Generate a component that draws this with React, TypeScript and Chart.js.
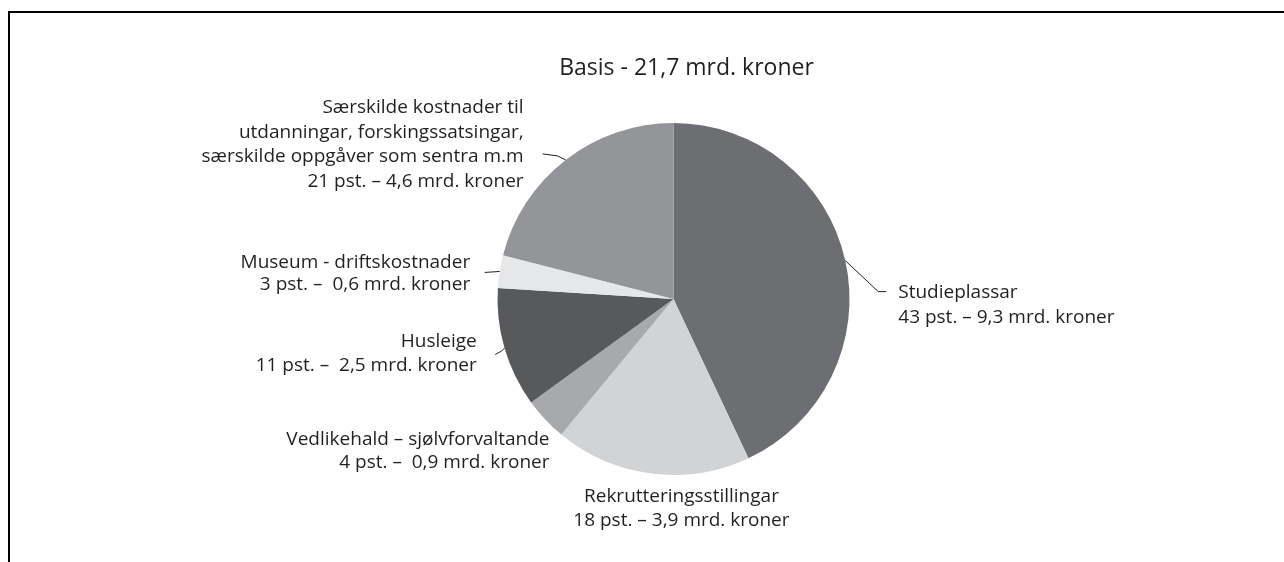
import React, { useEffect, useRef } from "react";
import { Chart, registerables } from "chart.js";

Chart.register(...registerables);

// ---- data ----
const TITLE = "Basis - 21,7 mrd. kroner";
const categories: string[][] = [
  ["Studieplassar"],
  ["Rekrutteringsstillingar"],
  ["Vedlikehald – sjølvforvaltande"],
  ["Husleige"],
  ["Museum - driftskostnader"],
  ["Særskilde kostnader til", "utdanningar, forskingssatsingar,", "særskilde oppgåver som sentra m.m"],
];
const percentages = [43, 18, 4, 11, 3, 21];
const amounts = ["9,3", "3,9", "0,9", "2,5", "0,6", "4,6"];
const amountSeparators = [" – ", " – ", " –  ", " –  ", " –  ", " – "];
const colors = ["#6d6e71", "#d1d3d4", "#a7a9ac", "#58595b", "#e6e7e8", "#939598"];

// ---- label layout (style, offsets from slice edge point at mid-angle) ----
type Layout = { align: CanvasTextAlign; dx: number; dy: number[]; leader?: number[][] };
const LABEL_LAYOUT: Layout[] = [
  { align: "left", dx: 53, dy: [37.7, 62], leader: [[33, 31], [41, 31]] },
  { align: "center", dx: 30, dy: [28.6, 52] },
  { align: "right", dx: 4.3, dy: [26, 48.7] },
  { align: "right", dx: -27.7, dy: [-1.6, 22.4], leader: [[-3, 3], [-9.3, 6.4]] },
  { align: "right", dx: -29.5, dy: [-3.7, 19], leader: [[-15, 1]] },
  { align: "right", dx: -42, dy: [-47, -22.3, 2.5, 27.3], leader: [[-8, -4], [-23, -6]] },
];
const FONT_FAMILY = "'Open Sans', 'Noto Sans', sans-serif";
const TEXT_COLOR = "#231f20";

const labelPlugin = {
  id: "pieLabels",
  afterDraw(chart: any) {
    const ctx: CanvasRenderingContext2D = chart.ctx;
    const meta = chart.getDatasetMeta(0);
    ctx.save();
    ctx.fillStyle = TEXT_COLOR;
    ctx.strokeStyle = TEXT_COLOR;
    ctx.lineWidth = 1;
    ctx.textBaseline = "alphabetic";
    let cx = 0, cy = 0, R = 0;
    meta.data.forEach((arc: any, i: number) => {
      const p = arc.getProps(["x", "y", "startAngle", "endAngle", "outerRadius"], true);
      cx = p.x; cy = p.y; R = p.outerRadius;
      const mid = (p.startAngle + p.endAngle) / 2;
      const ex = p.x + Math.cos(mid) * p.outerRadius;
      const ey = p.y + Math.sin(mid) * p.outerRadius;
      const lay = LABEL_LAYOUT[i];
      if (lay.leader) {
        ctx.beginPath();
        ctx.moveTo(ex, ey);
        lay.leader.forEach(([lx, ly]) => ctx.lineTo(ex + lx, ey + ly));
        ctx.stroke();
      }
      const lines = [
        ...categories[i],
        `${percentages[i]} pst.${amountSeparators[i]}${amounts[i]} mrd. kroner`,
      ];
      ctx.font = `19px ${FONT_FAMILY}`;
      ctx.textAlign = lay.align;
      lines.forEach((t, k) => ctx.fillText(t, ex + lay.dx, ey + lay.dy[k]));
    });
    ctx.font = `23px ${FONT_FAMILY}`;
    ctx.textAlign = "center";
    ctx.fillText(TITLE, cx + 13, cy - R - 48.5);
    ctx.restore();
  },
};

export default function App() {
  const ref = useRef<HTMLCanvasElement>(null);
  useEffect(() => {
    const chart = new Chart(ref.current!, {
      type: "pie",
      data: {
        labels: categories.map((c) => c.join(" ")),
        datasets: [
          {
            data: percentages,
            backgroundColor: colors,
            borderWidth: 0,
          },
        ],
      },
      options: {
        animation: false,
        responsive: false,
        radius: 176,
        layout: { padding: { left: 63, top: 36, right: 0, bottom: 0 } },
        plugins: { legend: { display: false }, tooltip: { enabled: false }, title: { display: false } },
      } as any,
      plugins: [labelPlugin],
    });
    return () => chart.destroy();
  }, []);
  return (
    <div style={{ position: "fixed", left: 0, top: 0, width: 1284, height: 562, background: "#fff", overflow: "hidden" }}>
      <div
        style={{
          position: "absolute",
          left: 8,
          top: 11,
          width: 1300,
          height: 600,
          borderTop: "2px solid #000",
          borderLeft: "2px solid #000",
        }}
      />
      <canvas ref={ref} width={1284} height={562} style={{ position: "absolute", left: 0, top: 0 }} />
    </div>
  );
}
